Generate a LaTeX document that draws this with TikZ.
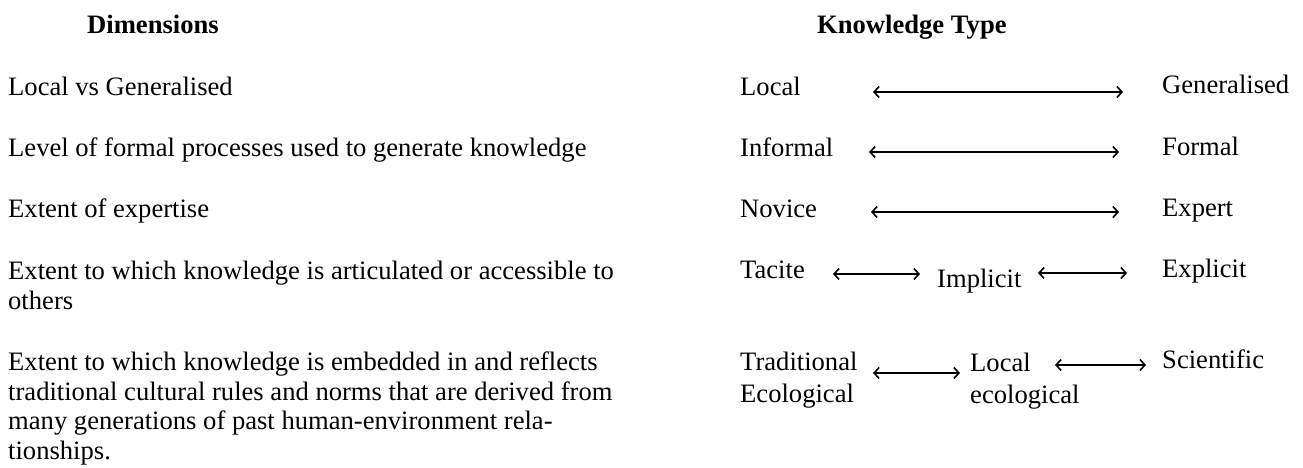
\documentclass[tikz,border=0pt]{standalone}
\usepackage{fontspec}
\setmainfont{Liberation Serif}
\usetikzlibrary{arrows.meta}
\begin{document}
\begin{tikzpicture}[x=1pt,y=-1pt,
  txt/.style={font=\fontsize{26.6}{29.5}\selectfont, inner sep=0pt, anchor=base west, align=left},
  txtb/.style={txt, font=\fontsize{26.6}{32}\selectfont},
  hdr/.style={txt, font=\fontsize{26.6}{30}\selectfont\bfseries},
  dbl/.style={{Straight Barb[length=5pt,width=11pt]}-{Straight Barb[length=5pt,width=11pt]}, line width=1.6pt, black}]
\useasboundingbox[fill=white] (0,0) rectangle (1303,467);
% headers
\node[hdr] (hdim) at (87,33) {Dimensions};
\node[hdr] (hkt) at (817,33) {Knowledge Type};
% dimensions (multi-line nodes are placed by the baseline of their last line)
\node[txt] (d1) at (8,95) {Local vs Generalised};
\node[txt] (d2) at (8,156) {Level of formal processes used to generate knowledge};
\node[txt] (d3) at (8,217) {Extent of expertise};
\node[txt] (d4) at (8,309) {Extent to which knowledge is articulated or accessible to\\others};
\node[txt] (d5) at (8,459) {Extent to which knowledge is embedded in and reflects\\traditional cultural rules and norms that are derived from\\many generations of past human-environment rela-\\tionships.};
% knowledge types
\node[txt] (k1l) at (740,95) {Local};
\node[txt] (k1r) at (1162,93) {Generalised};
\node[txt] (k2l) at (740,156) {Informal};
\node[txt] (k2r) at (1162,155) {Formal};
\node[txt] (k3l) at (740,217) {Novice};
\node[txt] (k3r) at (1162,216) {Expert};
\node[txt] (k4l) at (740,278) {Tacite};
\node[txt] (k4m) at (937,287) {Implicit};
\node[txt] (k4r) at (1162,277) {Explicit};
\node[txtb] (k5l) at (740,402) {Traditional\\Ecological};
\node[txtb] (k5m) at (970,403) {Local\\ecological};
\node[txt] (k5r) at (1162,368) {Scientific};
% arrow ends
\coordinate (a1l) at (873,92);  \coordinate (a1r) at (1123,92);
\coordinate (a2l) at (869,152); \coordinate (a2r) at (1119,152);
\coordinate (a3l) at (871,212); \coordinate (a3r) at (1119,212);
\coordinate (a4l) at (833,274); \coordinate (a4m) at (920,274);
\coordinate (a4n) at (1038,273); \coordinate (a4r) at (1127,273);
\coordinate (a5l) at (873,373); \coordinate (a5m) at (960,373);
\coordinate (a5n) at (1055,365); \coordinate (a5r) at (1146,365);
\draw[dbl] (a1l) -- (a1r);
\draw[dbl] (a2l) -- (a2r);
\draw[dbl] (a3l) -- (a3r);
\draw[dbl] (a4l) -- (a4m);
\draw[dbl] (a4n) -- (a4r);
\draw[dbl] (a5l) -- (a5m);
\draw[dbl] (a5n) -- (a5r);
\end{tikzpicture}
\end{document}
